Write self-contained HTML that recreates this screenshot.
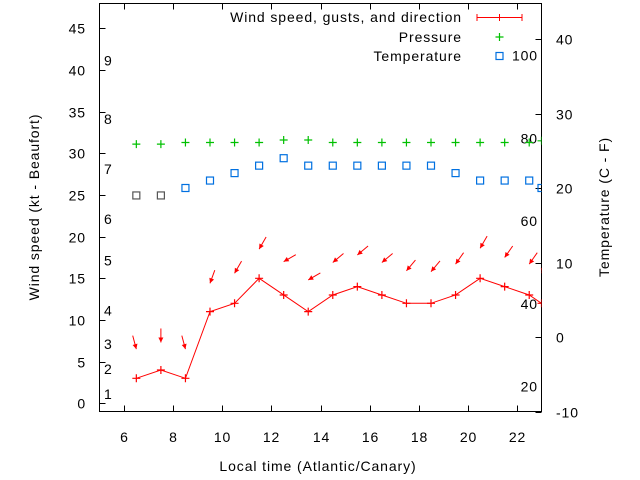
<!DOCTYPE html>
<html><head><meta charset="utf-8"><style>
html,body{margin:0;padding:0;background:#fff;width:640px;height:480px;overflow:hidden}
svg{font-family:"Liberation Sans",sans-serif;font-size:14px;letter-spacing:0.9px}
</style></head><body>
<svg id="chart" width="640" height="480" viewBox="0 0 640 480" xmlns="http://www.w3.org/2000/svg"></svg>
<script>
const hours = [6.5,7.5,8.5,9.5,10.5,11.5,12.5,13.5,14.5,15.5,16.5,17.5,18.5,19.5,20.5,21.5,22.5,23];
const windSpeed = [3,4,3,11,12,15,13,11,13,14,13,12,12,13,15,14,13,12];
const windGust = [6.5,7.3,6.5,14.4,15.6,18.5,17,14.8,16.9,17.8,16.9,15.9,15.8,16.7,18.6,17.5,16.7,15.6];
const windDir = [345,0,345,20,30,30,60,60,50,50,50,40,40,35,30,35,35,20];
const pressurePlot = [31.1,31.1,31.3,31.3,31.3,31.3,31.6,31.6,31.3,31.3,31.3,31.3,31.3,31.3,31.3,31.3,31.3,31.5];
const tempC = [19,19,20,21,22,23,24,23,23,23,23,23,23,22,21,21,21,20];
const xTicks = [6,8,10,12,14,16,18,20,22];
const yTicks = [0,5,10,15,20,25,30,35,40,45];
const tTicks = [-10,0,10,20,30,40];
const fLabels = [20,40,60,80,100];
const beaufortKt = [1,4,7,11,17,22,28,34,41];

const L=99.5,R=541.5,T=3.5,B=411.5;
const X=h=>L+(h-5)*(R-L)/18;
const Y=v=>403.3-v*8.333;
const TY=c=>B-(c+10)*7.45;
const svg=document.getElementById('chart');
const NS='http://www.w3.org/2000/svg';
function mk(tag,attrs,parent){const e=document.createElementNS(NS,tag);for(const k in attrs)e.setAttribute(k,attrs[k]);(parent||svg).appendChild(e);return e;}
function txt(s,x,y,anchor,parent){const e=mk('text',{x:x,y:y,'text-anchor':anchor||'start',fill:'#000'},parent);e.textContent=s;return e;}

const defs=mk('defs',{});
const cp=mk('clipPath',{id:'clip'},defs);
mk('rect',{x:L,y:T,width:R-L,height:B-T},cp);

const axes=mk('g',{stroke:'#000','stroke-width':1});


xTicks.forEach(h=>{const x=Math.round(X(h))+0.5;
  mk('line',{x1:x,x2:x,y1:B,y2:B-6},axes);mk('line',{x1:x,x2:x,y1:T,y2:T+6},axes);
  const t=txt(String(h),x,442,'middle');
  
  
});
yTicks.forEach(v=>{const y=Math.round(Y(v))+0.5;
  mk('line',{x1:L,x2:L+6,y1:y,y2:y},axes);
  const t=txt(String(v),86,y+5,'end');
  
  
});
tTicks.forEach(c=>{const y=Math.round(TY(c))+0.5;
  mk('line',{x1:R,x2:R-6,y1:y,y2:y},axes);
  const t=txt(String(c),556,y+5,'start');
  
  
});
fLabels.forEach(f=>{const c=(f-32)*5/9;
  const t=txt(String(f),538,TY(c)+5,'end');
  
  
});
beaufortKt.forEach((k,i)=>{
  const t=txt(String(i+1),104,Y(k)+4,'start');
  
  
});
mk('rect',{x:L,y:T,width:R-L,height:B-T,fill:'none',stroke:'#000'});

let t=txt('Local time (Atlantic/Canary)',318,471,'middle');


t=txt('Wind speed (kt - Beaufort)',0,0,'middle');t.setAttribute('transform','translate(39,207) rotate(-90)');


t=txt('Temperature (C - F)',0,0,'middle');t.setAttribute('transform','translate(609,207) rotate(-90)');



const g=mk('g',{'clip-path':'url(#clip)'});
function plus(x,y,col,parent){mk('path',{d:`M${x-4} ${y}H${x+4}M${x} ${y-4}V${y+4}`,stroke:col,'stroke-width':1.2,fill:'none'},parent);}
function square(x,y,col,parent){mk('rect',{x:x-3.5,y:y-3.5,width:7,height:7,fill:'none',stroke:col,'stroke-width':1.2},parent);}

const pg=mk('g',{},g);


hours.forEach((h,i)=>plus(X(h),Y(pressurePlot[i]),'#00c000',pg));

const tg=mk('g',{},g);


hours.forEach((h,i)=>square(X(h),TY(tempC[i]),i<2?'#555':'#0070e0',tg));

const wg=mk('g',{},g);


mk('polyline',{points:hours.map((h,i)=>X(h)+','+Y(windSpeed[i])).join(' '),fill:'none',stroke:'#f00','stroke-width':1},wg);
hours.forEach((h,i)=>plus(X(h),Y(windSpeed[i]),'#f00',wg));
hours.forEach((h,i)=>{
  const hx=X(h),hy=Y(windGust[i]);
  const a=windDir[i]*Math.PI/180;
  const dx=-Math.sin(a),dy=Math.cos(a);
  const len=14;
  const tx=hx-dx*len,ty=hy-dy*len;
  const ar=mk('g',{},wg);
  
  
  mk('line',{x1:tx,y1:ty,x2:hx,y2:hy,stroke:'#f00','stroke-width':1},ar);
  const px=-dy,py=dx;
  mk('polygon',{points:`${hx},${hy} ${hx-dx*5+px*2.5},${hy-dy*5+py*2.5} ${hx-dx*5-px*2.5},${hy-dy*5-py*2.5}`,fill:'#f00'},ar);
});

const lg=mk('g',{});


t=txt('Wind speed, gusts, and direction',462,22,'end',lg);


mk('path',{d:'M477 17.5H522M477 14V21M522 14V21M499.5 14V21',stroke:'#f00','stroke-width':1,fill:'none'},lg);
t=txt('Pressure',462,42,'end',lg);


plus(499.5,37,'#00c000',lg);
t=txt('Temperature',462,61,'end',lg);


square(499.5,56,'#0070e0',lg);
</script>
</body></html>
